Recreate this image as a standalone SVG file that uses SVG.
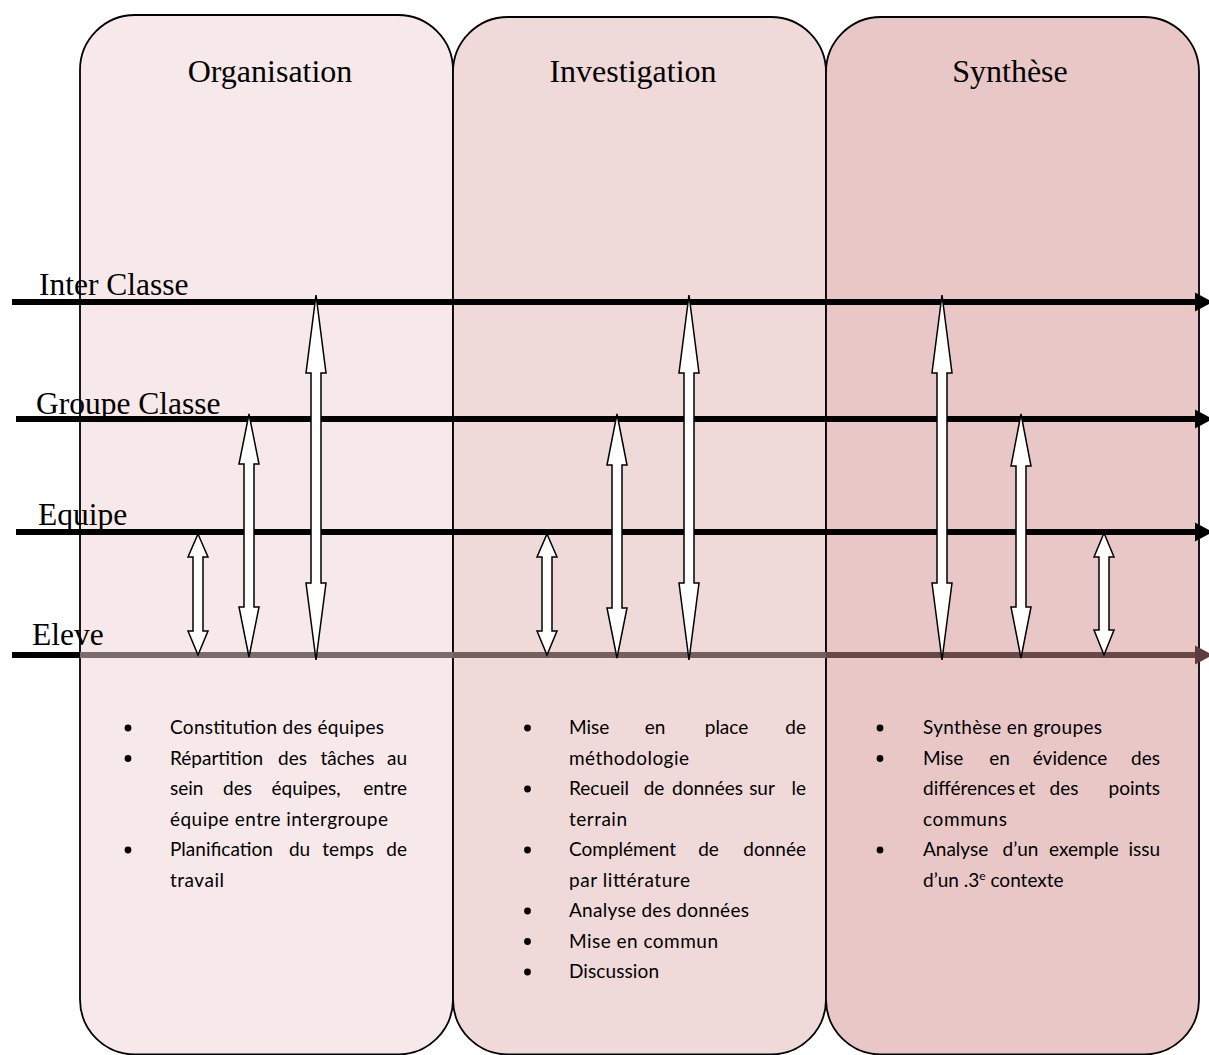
<svg xmlns="http://www.w3.org/2000/svg" width="1209" height="1055" viewBox="0 0 1209 1055">
<style>
.col{stroke:#000;stroke-width:1.8}
.hdr{font-family:"Liberation Serif","Times New Roman",serif;font-size:32px;fill:#000}
.lbl{font-family:"Liberation Serif","Times New Roman",serif;font-size:31.5px;fill:#000}
.txt{font-family:Lato,"Noto Sans",sans-serif;font-size:19px;fill:#000}
.end{text-anchor:end}
.mid{text-anchor:middle}
.lvl{stroke:#000;stroke-width:6;fill:none}
.dbl{fill:#fff;stroke:#000;stroke-width:1.5;stroke-linejoin:miter}
.dot{fill:#000}
</style>
<rect width="1209" height="1055" fill="#fff"/>

<g id="col-organisation">
<rect class="col" x="80" y="15" width="373" height="1039.5" rx="55" ry="55" fill="#f7e9e9"/>
<text class="hdr" x="270" y="82" text-anchor="middle">Organisation</text>
</g>
<g id="col-investigation">
<rect class="col" x="453" y="17" width="373" height="1037.5" rx="55" ry="55" fill="#f0d9d9"/>
<text class="hdr" x="633" y="82" text-anchor="middle">Investigation</text>
</g>
<g id="col-synthese">
<rect class="col" x="826" y="17" width="373" height="1037.5" rx="55" ry="55" fill="#e9c7c7"/>
<text class="hdr" x="1010" y="82" text-anchor="middle">Synthèse</text>
</g>

<g id="connectors">
<line class="lvl" x1="12" y1="302" x2="1195" y2="302"/>
<path d="M1195,292.5 L1213,302 L1195,311.5 Z" fill="#000"/>
<line class="lvl" x1="16" y1="419" x2="1195" y2="419"/>
<path d="M1195,409.5 L1213,419 L1195,428.5 Z" fill="#000"/>
<line class="lvl" x1="16" y1="532" x2="1195" y2="532"/>
<path d="M1195,522.5 L1213,532 L1195,541.5 Z" fill="#000"/>
<line x1="12" y1="655" x2="80" y2="655" stroke="#000" stroke-width="6"/>
<line x1="80" y1="655" x2="453" y2="655" stroke="#7a6c6c" stroke-width="6"/>
<line x1="453" y1="655" x2="826" y2="655" stroke="#745e5e" stroke-width="6"/>
<line x1="826" y1="655" x2="1195" y2="655" stroke="#6b4848" stroke-width="6"/>
<path d="M1195,645.5 L1213,655 L1195,664.5 Z" fill="#5e3c3c"/>

<polygon class="dbl" points="198,534 208,557 203,557 203,631 208,631 198,655 188,631 193,631 193,557 188,557"/>
<polygon class="dbl" points="249,414 259,464 254,464 254,607 259,607 249,657 239,607 244,607 244,464 239,464"/>
<polygon class="dbl" points="316,295 326,373 321,373 321,583 326,583 316,660 306,583 311,583 311,373 306,373"/>
<polygon class="dbl" points="547,534 557,557 552,557 552,631 557,631 547,655 537,631 542,631 542,557 537,557"/>
<polygon class="dbl" points="617,414 627,465 622,465 622,608 627,608 617,658 607,608 612,608 612,465 607,465"/>
<polygon class="dbl" points="689,295 699,373 694,373 694,583 699,583 689,660 679,583 684,583 684,373 679,373"/>
<polygon class="dbl" points="942,295 952,373 947,373 947,583 952,583 942,660 932,583 937,583 937,373 932,373"/>
<polygon class="dbl" points="1021,414 1031,466 1026,466 1026,607 1031,607 1021,658 1011,607 1016,607 1016,466 1011,466"/>
<polygon class="dbl" points="1104,533 1114,557 1109,557 1109,630 1114,630 1104,655 1094,630 1099,630 1099,557 1094,557"/>
</g>

<g id="level-labels">
<text class="lbl" x="39" y="295">Inter Classe</text>
<text class="lbl" x="36" y="414">Groupe Classe</text>
<text class="lbl" x="38" y="525">Equipe</text>
<text class="lbl" x="32" y="645">Eleve</text>
</g>

<g id="list-organisation">
<circle class="dot" cx="128" cy="728" r="3.4"/>
<circle class="dot" cx="128" cy="758.5" r="3.4"/>
<circle class="dot" cx="128" cy="850" r="3.4"/>
<text class="txt" x="170" y="734" textLength="214" lengthAdjust="spacing">Constitution des équipes</text>
<text class="txt" y="764.5"><tspan x="170">Répartition</tspan><tspan x="292.5" class="mid">des</tspan><tspan x="347.5" class="mid">tâches</tspan><tspan x="407" class="end">au</tspan></text>
<text class="txt" y="795"><tspan x="170">sein</tspan><tspan x="237.5" class="mid">des</tspan><tspan x="306" class="mid">équipes,</tspan><tspan x="407" class="end">entre</tspan></text>
<text class="txt" x="170" y="825.5" textLength="218" lengthAdjust="spacing">équipe entre intergroupe</text>
<text class="txt" y="856"><tspan x="170">Planification</tspan><tspan x="299.5" class="mid">du</tspan><tspan x="348" class="mid">temps</tspan><tspan x="407" class="end">de</tspan></text>
<text class="txt" x="170" y="886.5" textLength="54" lengthAdjust="spacing">travail</text>
</g>

<g id="list-investigation">
<circle class="dot" cx="527.5" cy="728" r="3.4"/>
<circle class="dot" cx="527.5" cy="789" r="3.4"/>
<circle class="dot" cx="527.5" cy="850" r="3.4"/>
<circle class="dot" cx="527.5" cy="911" r="3.4"/>
<circle class="dot" cx="527.5" cy="941.5" r="3.4"/>
<circle class="dot" cx="527.5" cy="972" r="3.4"/>
<text class="txt" y="734"><tspan x="569">Mise</tspan><tspan x="655" class="mid">en</tspan><tspan x="726.5" class="mid">place</tspan><tspan x="806" class="end">de</tspan></text>
<text class="txt" x="569" y="764.5" textLength="120" lengthAdjust="spacing">méthodologie</text>
<text class="txt" y="795"><tspan x="569">Recueil</tspan><tspan x="654" class="mid">de</tspan><tspan x="707.5" class="mid">données</tspan><tspan x="762" class="mid">sur</tspan><tspan x="806" class="end">le</tspan></text>
<text class="txt" x="569" y="825.5" textLength="58" lengthAdjust="spacing">terrain</text>
<text class="txt" y="856"><tspan x="569">Complément</tspan><tspan x="708.5" class="mid">de</tspan><tspan x="806" class="end">donnée</tspan></text>
<text class="txt" x="569" y="886.5" textLength="121" lengthAdjust="spacing">par littérature</text>
<text class="txt" x="569" y="917" textLength="180" lengthAdjust="spacing">Analyse des données</text>
<text class="txt" x="569" y="947.5" textLength="149" lengthAdjust="spacing">Mise en commun</text>
<text class="txt" x="569" y="978" textLength="90" lengthAdjust="spacing">Discussion</text>
</g>

<g id="list-synthese">
<circle class="dot" cx="880" cy="728" r="3.4"/>
<circle class="dot" cx="880" cy="758.5" r="3.4"/>
<circle class="dot" cx="880" cy="850" r="3.4"/>
<text class="txt" x="923" y="734" textLength="179" lengthAdjust="spacing">Synthèse en groupes</text>
<text class="txt" y="764.5"><tspan x="923">Mise</tspan><tspan x="999.5" class="mid">en</tspan><tspan x="1070" class="mid">évidence</tspan><tspan x="1160" class="end">des</tspan></text>
<text class="txt" y="795"><tspan x="923">différences</tspan><tspan x="1027" class="mid">et</tspan><tspan x="1064" class="mid">des</tspan><tspan x="1160" class="end">points</tspan></text>
<text class="txt" x="923" y="825.5" textLength="84" lengthAdjust="spacing">communs</text>
<text class="txt" y="856"><tspan x="923">Analyse</tspan><tspan x="1020.5" class="mid">d’un</tspan><tspan x="1084" class="mid">exemple</tspan><tspan x="1160" class="end">issu</tspan></text>
<text class="txt" x="923" y="886.5">d’un .3<tspan dy="-7" font-size="12px">e</tspan><tspan dy="7"> contexte</tspan></text>
</g>
</svg>
